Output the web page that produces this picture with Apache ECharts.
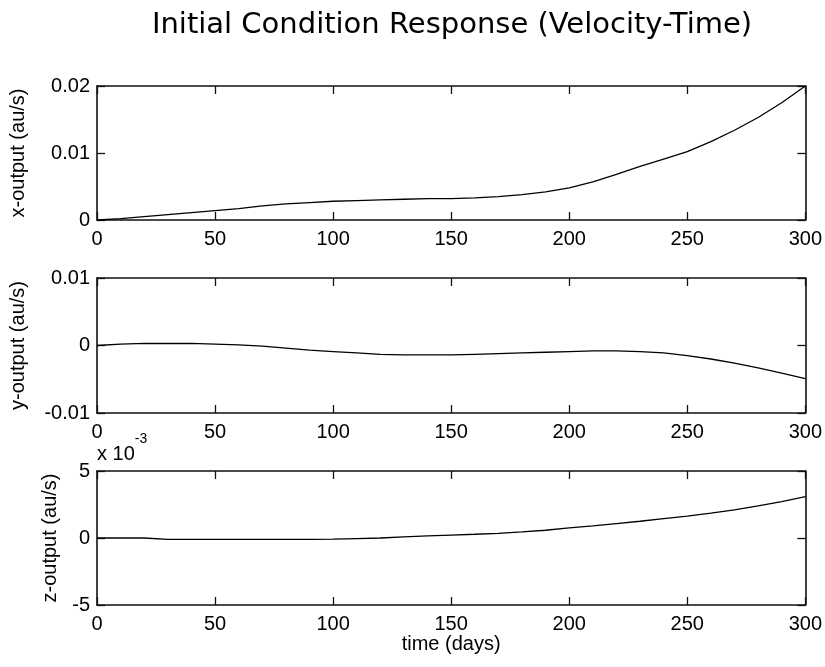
<!DOCTYPE html>
<html>
<head>
<meta charset="utf-8">
<script src="https://cdn.jsdelivr.net/npm/echarts@6/dist/echarts.min.js"></script>
<style>html,body{margin:0;padding:0;background:#fff}#c{width:825px;height:667px}</style>
</head>
<body>
<div id="c"></div>
<script>
const time = [0,10,20,30,40,50,60,70,80,90,100,110,120,130,140,150,160,170,180,190,200,210,220,230,240,250,260,270,280,290,300];
const xOutput = [0,0.0002,0.0005,0.0008,0.0011,0.0014,0.0017,0.0021,0.0024,0.0026,0.0028,0.0029,0.0030,0.0031,0.0032,0.0032,0.0033,0.0035,0.0038,0.0042,0.0048,0.0057,0.0068,0.0080,0.0091,0.0102,0.0117,0.0134,0.0153,0.0175,0.0200];
const yOutput = [0,0.0002,0.0003,0.0003,0.0003,0.0002,0.0001,-0.0001,-0.0004,-0.0007,-0.0009,-0.0011,-0.0013,-0.0014,-0.0014,-0.0014,-0.0013,-0.0012,-0.0011,-0.0010,-0.0009,-0.0008,-0.0008,-0.0009,-0.0011,-0.0015,-0.0020,-0.0026,-0.0033,-0.0041,-0.0049];
const zOutput = [0,0,0,-0.0001,-0.0001,-0.0001,-0.0001,-0.0001,-0.0001,-0.0001,-0.00008,-0.00004,0,0.00008,0.00016,0.00022,0.00028,0.00035,0.00045,0.00058,0.00075,0.0009,0.00108,0.00125,0.00145,0.00164,0.00185,0.0021,0.0024,0.00272,0.00308];
const xTicks = [0,50,100,150,200,250,300];
const titleText = 'Initial Condition Response (Velocity-Time)';
const yNames = ['x-output (au/s)','y-output (au/s)','z-output (au/s)'];
const xName = 'time (days)';

const FONT = '"Liberation Sans", Arial, sans-serif';
const FS = 20;
const chart = echarts.init(document.getElementById('c'), null, {renderer:'canvas'});

const grids = [
  {left:97, right:18, top:86, height:134},
  {left:97, right:18, top:278, height:135},
  {left:97, right:18, top:471, height:134}
];
const yRanges = [
  {min:0, max:0.02, interval:0.01, fmt:v=>String(+v.toFixed(4))},
  {min:-0.01, max:0.01, interval:0.01, fmt:v=>String(+v.toFixed(4))},
  {min:-0.005, max:0.005, interval:0.005, fmt:v=>String(Math.round(v*1000))}
];
const yNameGaps = [69, 69, 37];
const lineStyle = {color:'#111', width:1.6};
const tickStyle = {show:true, inside:true, length:8, lineStyle:{color:'#111', width:1.3}};

const xAxes = [], yAxes = [], series = [];
const datas = [xOutput, yOutput, zOutput];
grids.forEach((g,i)=>{
  xAxes.push({
    gridIndex:i, type:'value', min:0, max:300, interval:50, position:'bottom',
    axisLine:{show:true, onZero:false, lineStyle}, axisTick:tickStyle, splitLine:{show:false},
    axisLabel:{color:'#000', fontFamily:FONT, fontSize:FS, margin:9},
    name: i===2 ? xName : '', nameLocation:'middle', nameGap:29,
    nameTextStyle:{color:'#000', fontFamily:FONT, fontSize:FS}
  });
  xAxes.push({
    gridIndex:i, type:'value', min:0, max:300, interval:50, position:'top',
    axisLine:{show:true, onZero:false, lineStyle}, axisTick:tickStyle, splitLine:{show:false},
    axisLabel:{show:false}
  });
  const r = yRanges[i];
  yAxes.push({
    gridIndex:i, type:'value', min:r.min, max:r.max, interval:r.interval, position:'left',
    axisLine:{show:true, onZero:false, lineStyle}, axisTick:tickStyle, splitLine:{show:false},
    axisLabel:{color:'#000', fontFamily:FONT, fontSize:FS, margin:7, formatter:r.fmt},
    name: yNames[i], nameLocation:'middle', nameGap:yNameGaps[i], nameRotate:90,
    nameTextStyle:{color:'#000', fontFamily:FONT, fontSize:FS}
  });
  yAxes.push({
    gridIndex:i, type:'value', min:r.min, max:r.max, interval:r.interval, position:'right',
    axisLine:{show:true, onZero:false, lineStyle}, axisTick:tickStyle, splitLine:{show:false},
    axisLabel:{show:false}
  });
  series.push({
    type:'line', xAxisIndex:i*2, yAxisIndex:i*2, showSymbol:false, silent:true,
    data: time.map((t,k)=>[t, datas[i][k]]),
    lineStyle:{color:'#000', width:1.3}, animation:false
  });
});

chart.setOption({
  animation:false,
  backgroundColor:'#fff',
  title:{text:titleText, left:447, top:6, textAlign:'center',
    textStyle:{color:'#000', fontFamily:'"DejaVu Sans", sans-serif', fontSize:29, fontWeight:'normal'}},
  grid: grids,
  xAxis: xAxes,
  yAxis: yAxes,
  series: series,
  graphic:[{
    type:'text', left:97, top:432,
    style:{
      text:'{a|x 10}{b|-3}',
      rich:{
        a:{fontFamily:FONT, fontSize:FS, fill:'#000', verticalAlign:'bottom', padding:[12,0,0,0]},
        b:{fontFamily:FONT, fontSize:14, fill:'#000', verticalAlign:'top'}
      }
    }
  }]
});
</script>
</body>
</html>
